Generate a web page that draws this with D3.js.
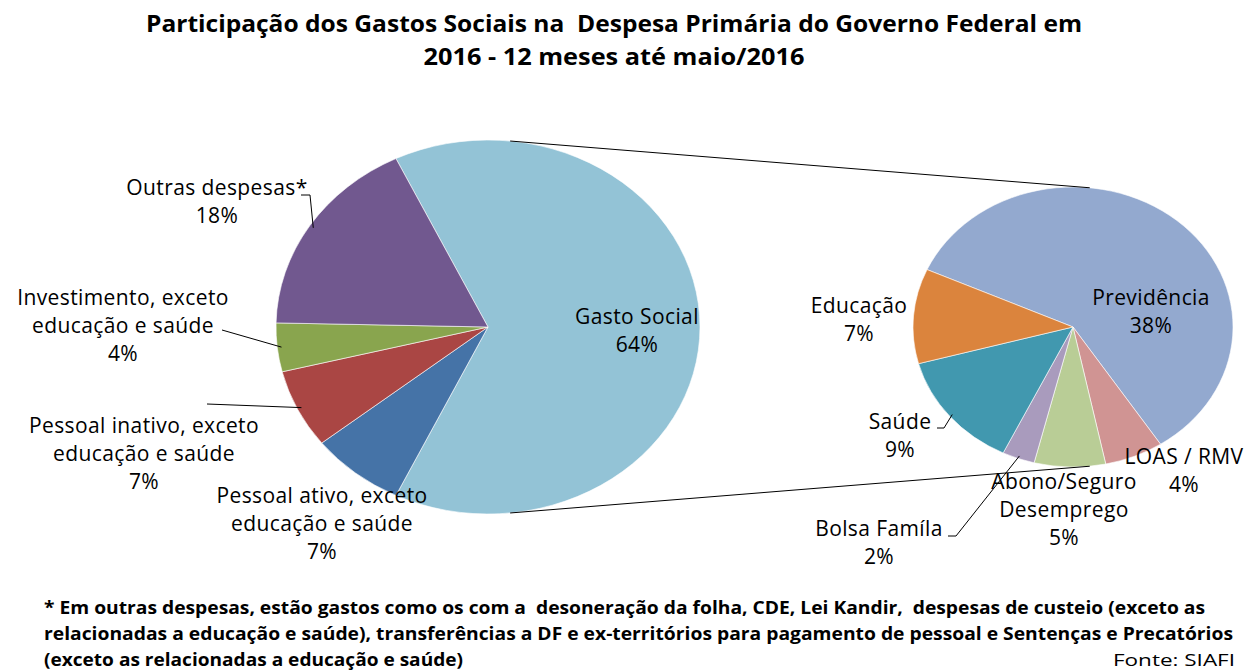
<!DOCTYPE html>
<html>
<head>
<meta charset="utf-8">
<script src="https://cdn.jsdelivr.net/npm/d3@7"></script>
<style>
  body { margin:0; background:#fff; }
  svg text { font-family: "Open Sans", "DejaVu Sans", sans-serif; fill:#000; }
</style>
</head>
<body>
<div id="chart"></div>
<script>
// data
var mainCats = ["Gasto Social", "Pessoal ativo, exceto\neducação e saúde", "Pessoal inativo, exceto\neducação e saúde",
                "Investimento, exceto\neducação e saúde", "Outras despesas*"];
var mainVals = [64.3, 7.2, 6.8, 4.2, 17.5];
var mainLbls = ["64%", "7%", "7%", "4%", "18%"];

var socialCats = ["Previdência", "LOAS / RMV", "Abono/Seguro\nDesemprego", "Bolsa Famíla", "Saúde", "Educação"];
var socialVals = [37.8, 3.8, 4.6, 2.1, 8.7, 7.0];
var socialLbls = ["38%", "4%", "5%", "2%", "9%", "7%"];

var mainColors = ["#93c3d6", "#4573a7", "#aa4644", "#89a54e", "#71588f"];
var socialColors = ["#93a9cf", "#d09493", "#b9cd96", "#a99bbd", "#4198af", "#db843d"];

var W = 1249, H = 671;
var svg = d3.select("#chart").append("svg").attr("width", W).attr("height", H);

var deg = Math.PI/180;
var L = {cx:488, cy:327, rx:212, ry:187};
var R = {cx:1073, cy:327, rx:160, ry:140};

// label layout (offset from pie centre, first baseline) + leader lines
var mainLabelPos = [[149,-3],[-166,176],[-344,106],[-365,-22],[-271,-132]];
var socialLabelPos = [[78,-22],[111,137],[-9,162],[-194,209],[-173,102],[-214,-14]];
var mainLeaders = {3:[[222,330]], 2:[[207,404]], 4:[[301,195],[310,195]]};
var socialLeaders = {4:[[937,428],[944,428]], 3:[[948,536],[956,536]]};

function ept(p, a, k){ k = k||1; return [p.cx + p.rx*k*Math.sin(a), p.cy - p.ry*k*Math.cos(a)]; }

function drawPie(p, vals, colors, start){
  var pie = d3.pie().sort(null).startAngle(start).endAngle(start + 2*Math.PI);
  var arcs = pie(vals);
  var arc = d3.arc().innerRadius(0).outerRadius(p.ry);
  svg.append("g")
     .attr("transform", "translate(" + p.cx + "," + p.cy + ") scale(" + (p.rx/p.ry) + ",1)")
     .selectAll("path").data(arcs).enter().append("path")
     .attr("d", arc)
     .attr("fill", function(d,i){ return colors[i]; })
     .attr("stroke", "#ffffff").attr("stroke-width", 0.6)
     .attr("vector-effect", "non-scaling-stroke");
  return arcs;
}

var mainStart = (90 - mainVals[0]/100*180) * deg;
var mainArcs = drawPie(L, mainVals, mainColors, mainStart);
var socialArcs = drawPie(R, socialVals, socialColors, -65.8*deg);

// connector lines between pies
var off = 6*deg;
[off, Math.PI - off].forEach(function(a){
  var p1 = ept(L, a), p2 = ept(R, a);
  svg.append("line").attr("x1", p1[0]).attr("y1", p1[1]).attr("x2", p2[0]).attr("y2", p2[1])
     .attr("stroke", "#000").attr("stroke-width", 1);
});

function leader(pts, p, d){
  var a = (d.startAngle + d.endAngle)/2;
  var end = ept(p, a, 0.98);
  svg.append("path").attr("d", d3.line()(pts.concat([end]))).attr("fill", "none")
     .attr("stroke", "#000").attr("stroke-width", 1);
}
Object.keys(mainLeaders).forEach(function(k){ leader(mainLeaders[k], L, mainArcs[k]); });
Object.keys(socialLeaders).forEach(function(k){ leader(socialLeaders[k], R, socialArcs[k]); });

function labels(p, cats, lbls, pos){
  cats.forEach(function(c, i){
    var lines = c.split("\n").concat([lbls[i]]);
    var t = svg.append("text").attr("text-anchor", "middle")
               .style("font-size", "21px").style("letter-spacing", "0.4px");
    lines.forEach(function(s, j){
      t.append("tspan").attr("x", p.cx + pos[i][0]).attr("y", p.cy + pos[i][1] + j*27.8).text(s);
    });
  });
}
labels(L, mainCats, mainLbls, mainLabelPos);
labels(R, socialCats, socialLbls, socialLabelPos);

// title
var title = ["Participação dos Gastos Sociais na  Despesa Primária do Governo Federal em",
             "2016 - 12 meses até maio/2016"];
var titleW = [936, 381];
svg.selectAll(".title").data(title).enter().append("text")
   .attr("x", 614).attr("y", function(d,i){ return 32 + i*33; })
   .attr("text-anchor", "middle").style("font-size", "23px").style("font-weight", "bold")
   .style("white-space", "pre")
   .attr("textLength", function(d,i){ return titleW[i]; }).attr("lengthAdjust", "spacingAndGlyphs")
   .text(function(d){ return d; });

// footnote
var notes = ["* Em outras despesas, estão gastos como os com a  desoneração da folha, CDE, Lei Kandir,  despesas de custeio (exceto as",
             "relacionadas a educação e saúde), transferências a DF e ex-territórios para pagamento de pessoal e Sentenças e Precatórios",
             "(exceto as relacionadas a educação e saúde)"];
var notesW = [1161, 1189, 419];
svg.selectAll(".note").data(notes).enter().append("text")
   .attr("x", 44).attr("y", function(d,i){ return 614 + i*26; })
   .style("font-size", "17px").style("font-weight", "bold").style("white-space", "pre")
   .attr("textLength", function(d,i){ return notesW[i]; }).attr("lengthAdjust", "spacingAndGlyphs")
   .text(function(d){ return d; });
svg.append("text").attr("x", 1235).attr("y", 666).attr("text-anchor", "end")
   .style("font-size", "17px").attr("textLength", 122).attr("lengthAdjust", "spacingAndGlyphs")
   .text("Fonte: SIAFI");
</script>
</body>
</html>
